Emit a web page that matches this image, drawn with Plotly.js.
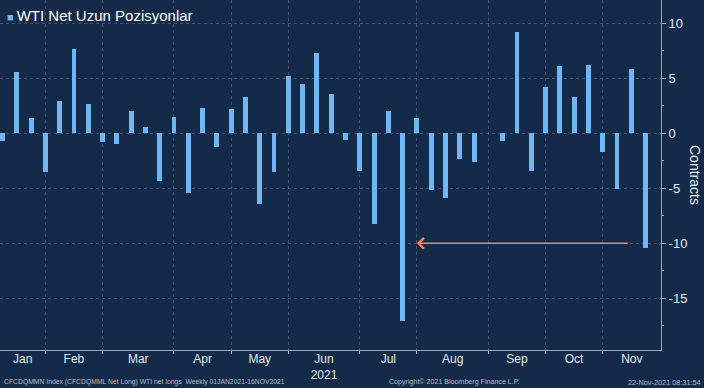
<!DOCTYPE html>
<html>
<head>
<meta charset="utf-8">
<script src="https://cdn.plot.ly/plotly-3.0.1.min.js"></script>
<style>
  html, body { margin: 0; padding: 0; background: #132b48; }
  #chart { width: 704px; height: 388px; }
</style>
</head>
<body>
<div id="chart"></div>
<script>
// Weekly report dates (Tuesdays), 2021
const dates = [
  "2021-01-05","2021-01-12","2021-01-19","2021-01-26",
  "2021-02-02","2021-02-09","2021-02-16","2021-02-23",
  "2021-03-02","2021-03-09","2021-03-16","2021-03-23","2021-03-30",
  "2021-04-06","2021-04-13","2021-04-20","2021-04-27",
  "2021-05-04","2021-05-11","2021-05-18","2021-05-25",
  "2021-06-01","2021-06-08","2021-06-15","2021-06-22","2021-06-29",
  "2021-07-06","2021-07-13","2021-07-20","2021-07-27",
  "2021-08-03","2021-08-10","2021-08-17","2021-08-24","2021-08-31",
  "2021-09-07","2021-09-14","2021-09-21","2021-09-28",
  "2021-10-05","2021-10-12","2021-10-19","2021-10-26",
  "2021-11-02","2021-11-09","2021-11-16"
];
// Weekly change in WTI net longs (contracts, thousands)
const netChange = [
  -0.67, 5.6, 1.36, -3.5,
  2.97, 7.7, 2.67, -0.76,
  -0.97, 2.03, 0.6, -4.33, 1.45,
  -5.45, 2.3, -1.2, 2.18,
  3.33, -6.43, -3.48, 5.2,
  4.48, 7.33, 3.58, -0.6, -3.4,
  -8.27, 2.06, -17.03, 1.42,
  -5.15, -5.9, -2.36, -2.58, 0.05,
  -0.67, 9.18, -3.42, 4.24,
  6.12, 3.3, 6.24, -1.73,
  -5.06, 5.88, -10.4
];
const monthLabels = ["Jan","Feb","Mar","Apr","May","Jun<br>2021","Jul","Aug","Sep","Oct","Nov"];
const yTicks = [-15, -10, -5, 0, 5, 10];
const seriesName = "WTI Net Uzun Pozisyonlar";
const arrowFrom = { x: "2021-11-08", y: -10 };
const arrowTo = { x: "2021-07-27", y: -10 };

const DAY = 86400000;
const toMs = s => { const p = s.split("-").map(Number); return Date.UTC(p[0], p[1]-1, p[2]); };
const fmt = ms => new Date(ms).toISOString().replace("T", " ").slice(0, 19);

const first = toMs(dates[0]);
const week = 7 * DAY;
const xStart = first - 0.175 * week;
const xEnd = first + 46.08 * week;

// Month-end markers: last weekly observation of each month (except the final month)
const monthEnds = [];
for (let i = 0; i < dates.length - 1; i++) {
  if (dates[i].slice(5, 7) !== dates[i+1].slice(5, 7)) monthEnds.push(toMs(dates[i]));
}
const bounds = [xStart].concat(monthEnds, [xEnd]);
const labelPos = [];
for (let i = 0; i < bounds.length - 1; i++) labelPos.push(fmt((bounds[i] + bounds[i+1]) / 2));

const FONT = "Liberation Sans, Arial, sans-serif";
const bg = "#132b48";
const grid = "rgba(140,160,185,0.38)";
const axisCol = "#9aa8b8";
const textCol = "#e4e9ef";
const footCol = "#b4bdc8";

const trace = {
  type: "bar",
  x: dates,
  y: netChange,
  width: 2.4 * DAY,
  marker: { color: "#70b6f3", line: { width: 0 } },
  name: seriesName,
  showlegend: false,
  hoverinfo: "x+y"
};

const layout = {
  width: 704, height: 388,
  margin: { l: 0, r: 43, t: 0, b: 38 },
  paper_bgcolor: bg, plot_bgcolor: bg,
  font: { family: FONT, color: textCol, size: 12 },
  bargap: 0,
  xaxis: {
    type: "date",
    range: [fmt(xStart), fmt(xEnd)],
    tickmode: "array",
    tickvals: labelPos,
    ticktext: monthLabels,
    ticks: "",
    ticklabelstandoff: -2,
    showgrid: false,
    zeroline: false,
    showline: true, linecolor: axisCol, linewidth: 1,
    tickfont: { family: FONT, size: 12, color: textCol },
    minor: {
      tickmode: "array",
      tickvals: monthEnds.map(fmt),
      ticks: "outside", ticklen: 3, tickcolor: axisCol,
      showgrid: true, gridcolor: grid, gridwidth: 1, griddash: "dot"
    },
    fixedrange: true
  },
  yaxis: {
    side: "right",
    range: [-19.7, 12.12],
    tickmode: "array",
    tickvals: yTicks,
    ticktext: yTicks.map(String),
    ticks: "outside", ticklen: 4, tickcolor: axisCol,
    showgrid: true, gridcolor: grid, gridwidth: 1, griddash: "dot",
    zeroline: false,
    showline: true, linecolor: axisCol, linewidth: 1,
    tickfont: { family: FONT, size: 13, color: textCol },
    minor: { dtick: 2.5, tick0: 0, ticks: "outside", ticklen: 2, tickcolor: axisCol, showgrid: false },
    fixedrange: true
  },
  showlegend: false,
  annotations: [
    {
      x: arrowTo.x, y: arrowTo.y, xref: "x", yref: "y",
      ax: arrowFrom.x, ay: arrowFrom.y, axref: "x", ayref: "y",
      text: "", showarrow: true, arrowhead: 4, arrowsize: 1.3, arrowwidth: 1.6,
      arrowcolor: "#ef8a5c", standoff: 0, startstandoff: 0
    },
    {
      xref: "paper", yref: "paper", x: 0, y: 1 - 16/350, xanchor: "left", yanchor: "middle",
      xshift: 5, showarrow: false,
      text: '<span style="font-size:11px;color:#70b6f3">■&nbsp;</span>' + seriesName,
      font: { family: FONT, size: 15, color: "#ffffff" }
    },
    {
      xref: "paper", yref: "paper", x: 695/661, y: 0.5, xanchor: "center", yanchor: "middle",
      textangle: 90, showarrow: false, text: "Contracts",
      font: { family: FONT, size: 14, color: textCol }
    },
    {
      xref: "paper", yref: "paper", x: 0, y: -(382-350)/350, xanchor: "left", yanchor: "middle",
      xshift: 2, showarrow: false,
      text: "CFCDQMMN Index (CFCDQMML Net Long) WTI net longs&nbsp;&nbsp;Weekly 01JAN2021-16NOV2021",
      font: { family: FONT, size: 6.8, color: footCol }
    },
    {
      xref: "paper", yref: "paper", x: 455/661, y: -(382-350)/350, xanchor: "center", yanchor: "middle",
      showarrow: false, text: "Copyright© 2021 Bloomberg Finance L.P.",
      font: { family: FONT, size: 7.1, color: footCol }
    },
    {
      xref: "paper", yref: "paper", x: 703/661, y: -(382-350)/350, xanchor: "right", yanchor: "middle",
      showarrow: false, text: "22-Nov-2021 08:31:54",
      font: { family: FONT, size: 7.3, color: footCol }
    }
  ]
};

Plotly.newPlot("chart", [trace], layout, { staticPlot: true, displayModeBar: false });
</script>
</body>
</html>
